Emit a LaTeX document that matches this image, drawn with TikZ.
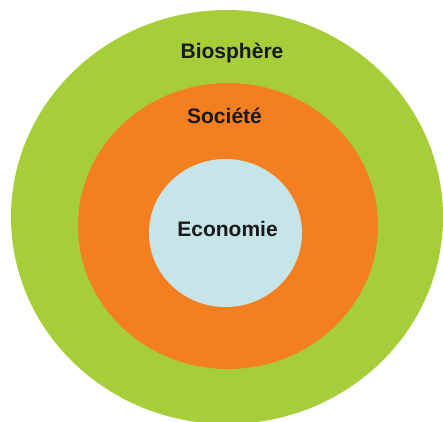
\documentclass[tikz,border=0pt]{standalone}
\usepackage{fontspec}
\setmainfont{Liberation Sans}
\definecolor{biogreen}{HTML}{A6CE39}
\definecolor{socorange}{HTML}{F47F20}
\definecolor{ecoblue}{HTML}{C5E5E8}
\tikzset{
  label/.style={anchor=base, font=\fontsize{21}{25}\selectfont\bfseries, text=black!90}
}
\begin{document}
\begin{tikzpicture}[x=1pt, y=-1pt]
      \useasboundingbox (0,0) rectangle (443,421);
      \clip (0,0) rectangle (443,421);
      \fill[biogreen] (227,217) ellipse [x radius=216, y radius=207];
      \fill[socorange] (228,226) ellipse [x radius=150, y radius=143];
      \fill[ecoblue] (225.5,233) ellipse [x radius=76.5, y radius=74];
      \draw
        (232,58) node[label] (bio){Biosphère}
        (224.5,123) node[label] (soc){Société}
        (227.5,236) node[label] (eco){Economie};
    \end{tikzpicture}
\end{document}
